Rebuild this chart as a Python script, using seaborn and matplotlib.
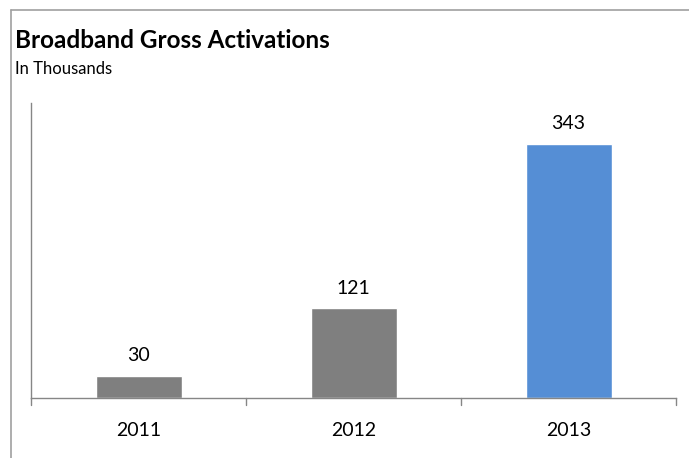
import matplotlib
matplotlib.use("Agg")
import matplotlib.pyplot as plt
import seaborn as sns
import pandas as pd
from matplotlib.lines import Line2D

years = ["2011", "2012", "2013"]
activations = [30, 121, 343]
bar_colors = ["#7F7F7F", "#7F7F7F", "#558ED5"]

sns.set_theme(style="white")
plt.rcParams["font.family"] = ["Lato", "DejaVu Sans"]

df = pd.DataFrame({"year": years, "value": activations})

fig = plt.figure(figsize=(6.89, 4.58), dpi=100)
W, H = 689, 458
ax = fig.add_axes([31 / W, 1 - 398 / H, (676 - 31) / W, (398 - 103) / H])

sns.barplot(data=df, x="year", y="value", hue="year", palette=bar_colors,
            width=0.4, legend=False, ax=ax, saturation=1)

ax.set_ylim(0, 398)
ax.set_xlim(-0.5, 2.5)
ax.set_xlabel("")
ax.set_ylabel("")
ax.set_yticks([])

for i, v in enumerate(activations):
    ax.annotate(str(v), (i, v), xytext=(0, 8.5), textcoords="offset points",
                ha="center", va="bottom", fontsize=14, color="black")

for s in ["top", "right"]:
    ax.spines[s].set_visible(False)
for s in ["left", "bottom"]:
    ax.spines[s].set_color("#868686")
    ax.spines[s].set_linewidth(1.0)

ax.set_xticks([0, 1, 2])
ax.set_xticklabels(years, fontsize=14, color="black")
ax.tick_params(axis="x", length=0, pad=17)
# category boundary tick marks
for xb in [-0.5, 0.5, 1.5, 2.5]:
    ax.plot([xb, xb], [0, -9.4], color="#868686", lw=1.0, clip_on=False)

# outer border (left and top)
fig.add_artist(Line2D([11 / W, 11 / W], [0, 1 - 10 / H], color="#A0A0A0", lw=1.2,
                      transform=fig.transFigure))
fig.add_artist(Line2D([11 / W, 1], [1 - 10 / H, 1 - 10 / H], color="#A0A0A0", lw=1.2,
                      transform=fig.transFigure))

fig.text(15 / W, 1 - 48.5 / H, "Broadband Gross Activations", fontsize=17.5,
         fontweight="bold", color="black", va="baseline", ha="left")
fig.text(15 / W, 1 - 74 / H, "In Thousands", fontsize=12, color="black",
         va="baseline", ha="left")

fig.savefig("out.png", dpi=100)
